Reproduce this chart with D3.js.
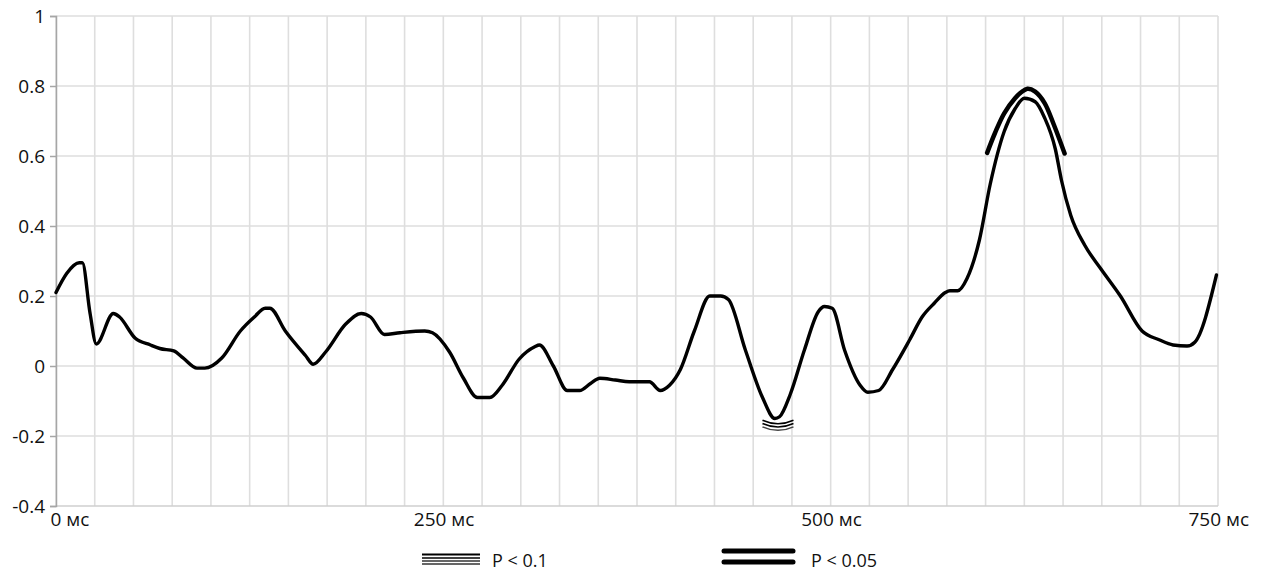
<!DOCTYPE html>
<html>
<head>
<meta charset="utf-8">
<script src="https://cdn.jsdelivr.net/npm/d3@7"></script>
<style>
    body { margin: 0; background: #fff; }
    text { font-family: "Open Sans", sans-serif; }
</style>
</head>
<body>
<svg id="chart" width="1266" height="572"></svg>
<script>

/* Data */
const timeMs = [0, 7, 15, 17, 22, 26, 37, 41, 51, 61, 67, 76, 82, 91, 96, 107, 119, 128, 135, 138,
    148, 161, 166, 174, 187, 197, 203, 212, 222, 238, 243, 254, 263, 272, 280, 288, 299, 309, 312, 321,
    330, 338, 345, 351, 361, 370, 383, 390, 396, 403, 412, 422, 429, 434, 445, 456, 464, 467, 474, 483,
    492, 496, 501, 509, 519, 524, 531, 540, 551, 559, 567, 574, 577, 582, 588, 596, 603, 612, 619, 625,
    632, 638, 645, 649, 655, 664, 674, 687, 701, 712, 721, 730, 735, 749];
const amplitude = [0.21, 0.265, 0.295, 0.295, 0.15, 0.063, 0.15, 0.14, 0.08, 0.06, 0.05, 0.043, 0.023, -0.006, -0.006, 0.023, 0.1, 0.14, 0.165, 0.165,
    0.10, 0.03, 0.005, 0.04, 0.12, 0.15, 0.14, 0.09, 0.095, 0.10, 0.095, 0.04, -0.035, -0.09, -0.09, -0.055, 0.02, 0.055, 0.06, 0.0,
    -0.07, -0.07, -0.05, -0.035, -0.04, -0.045, -0.045, -0.07, -0.055, -0.01, 0.10, 0.20, 0.20, 0.19, 0.045, -0.09, -0.15, -0.145, -0.08, 0.045,
    0.155, 0.17, 0.165, 0.045, -0.055, -0.075, -0.07, -0.01, 0.075, 0.14, 0.18, 0.21, 0.215, 0.215, 0.25, 0.36, 0.52, 0.67, 0.735, 0.765,
    0.755, 0.71, 0.62, 0.53, 0.43, 0.345, 0.28, 0.2, 0.1, 0.075, 0.06, 0.057, 0.068, 0.26];

/* P < 0.05 arc over the peak */
const sig05Ms = [601, 606, 612, 619, 623, 627, 632, 638, 644, 651];
const sig05Val = [0.609, 0.665, 0.722, 0.765, 0.782, 0.792, 0.784, 0.752, 0.69, 0.607];

/* P < 0.1 marks under the trough */
const sig10Range = [456, 476];
const sig10Val = -0.155;

const yTicks = [-0.4, -0.2, 0, 0.2, 0.4, 0.6, 0.8, 1];
const xTicks = [0, 250, 500, 750];
const xTickLabels = ["0 мс", "250 мс", "500 мс", "750 мс"];
const legendLabels = ["P < 0.1", "P < 0.05"];

const svg = d3.select("#chart");
const plotLeft = 56, plotRight = 1218, plotTop = 16, plotBottom = 506;

var x = d3.scaleLinear().domain([0, 750]).range([plotLeft, plotRight]);
var y = d3.scaleLinear().domain([-0.4, 1]).range([plotBottom, plotTop]);

/* grid */
svg.append("g")
    .selectAll("line")
    .data(d3.range(0, 751, 25))
    .enter()
    .append("line")
    .attr("x1", d => x(d)).attr("x2", d => x(d))
    .attr("y1", plotTop).attr("y2", plotBottom)
    .attr("stroke", "#dedede")
    .attr("stroke-width", 1.6);

svg.append("g")
    .selectAll("line")
    .data(yTicks)
    .enter()
    .append("line")
    .attr("x1", plotLeft).attr("x2", plotRight)
    .attr("y1", d => y(d)).attr("y2", d => y(d))
    .attr("stroke", d => d === -0.4 ? "#cfcfcf" : "#dedede")
    .attr("stroke-width", 1.6);

/* y axis */
var yAxis = d3.axisLeft(y)
    .tickValues(yTicks)
    .tickFormat(d => String(+d.toFixed(1)))
    .tickSize(6)
    .tickPadding(5);

svg.append("g")
    .attr("transform", "translate(" + plotLeft + ",0)")
    .call(yAxis)
    .call(g => g.select(".domain").attr("stroke", "#a6a6a6").attr("stroke-width", 1.5))
    .call(g => g.selectAll(".tick line").attr("stroke", "#a6a6a6").attr("stroke-width", 1.5))
    .call(g => g.selectAll(".tick text")
        .attr("fill", "#111")
        .style("font-family", "'Open Sans', sans-serif")
        .style("font-size", "19px"));

/* x axis labels */
var xAxis = d3.axisBottom(x)
    .tickValues(xTicks)
    .tickFormat((d, i) => xTickLabels[i])
    .tickSize(0)
    .tickPadding(7);

svg.append("g")
    .attr("transform", "translate(0," + plotBottom + ")")
    .call(xAxis)
    .call(g => g.select(".domain").remove())
    .call(g => g.selectAll(".tick text")
        .attr("text-anchor", "start")
        .attr("dx", d => d === 0 ? -6 : -30)
        .attr("fill", "#111")
        .style("font-family", "'Open Sans', sans-serif")
        .style("font-size", "19px"));

/* main curve */
const lineData = timeMs.map((t, i) => ({ t: t, v: amplitude[i] }));
var line = d3.line()
    .x(d => x(d.t))
    .y(d => y(d.v))
    .curve(d3.curveMonotoneX);

svg.append("path")
    .datum(lineData)
    .attr("d", line)
    .attr("fill", "none")
    .attr("stroke", "#000")
    .attr("stroke-width", 3.4)
    .attr("stroke-linejoin", "round")
    .attr("stroke-linecap", "round");

/* P < 0.05 arc */
const arcData = sig05Ms.map((t, i) => ({ t: t, v: sig05Val[i] }));
svg.append("path")
    .datum(arcData)
    .attr("d", d3.line().x(d => x(d.t)).y(d => y(d.v)).curve(d3.curveCatmullRom))
    .attr("fill", "none")
    .attr("stroke", "#000")
    .attr("stroke-width", 4.5)
    .attr("stroke-linecap", "round");

/* P < 0.1 marks: three small arcs under the trough */
const x0 = x(sig10Range[0]), x1 = x(sig10Range[1]), xm = (x0 + x1) / 2;
svg.append("g")
    .selectAll("path")
    .data([0, 1, 2])
    .enter()
    .append("path")
    .attr("d", k => {
        const yy = y(sig10Val) + k * 3.3;
        return "M" + x0 + "," + yy + " Q" + xm + "," + (yy + 7) + " " + x1 + "," + yy;
    })
    .attr("fill", "none")
    .attr("stroke", (k) => k === 2 ? "#444" : "#000")
    .attr("stroke-width", 1.5);

/* legend */
const legend = svg.append("g");
// P < 0.1 icon: four thin lines
legend.selectAll(".l10")
    .data([554.5, 558, 561, 564])
    .enter()
    .append("line")
    .attr("x1", 422).attr("x2", 480)
    .attr("y1", d => d).attr("y2", d => d)
    .attr("stroke", (d, i) => i < 2 ? "#000" : "#333")
    .attr("stroke-width", (d, i) => i === 0 ? 2.2 : 1.4);

legend.selectAll(".l05")
    .data([551, 562])
    .enter()
    .append("line")
    .attr("x1", 724).attr("x2", 793)
    .attr("y1", d => d).attr("y2", d => d)
    .attr("stroke", "#000")
    .attr("stroke-width", 5)
    .attr("stroke-linecap", "round");

legend.selectAll("text")
    .data(legendLabels)
    .enter()
    .append("text")
    .attr("x", (d, i) => i === 0 ? 492 : 811)
    .attr("y", 567)
    .attr("fill", "#111")
    .style("font-size", "18px")
    .text(d => d);

</script>
</body>
</html>
